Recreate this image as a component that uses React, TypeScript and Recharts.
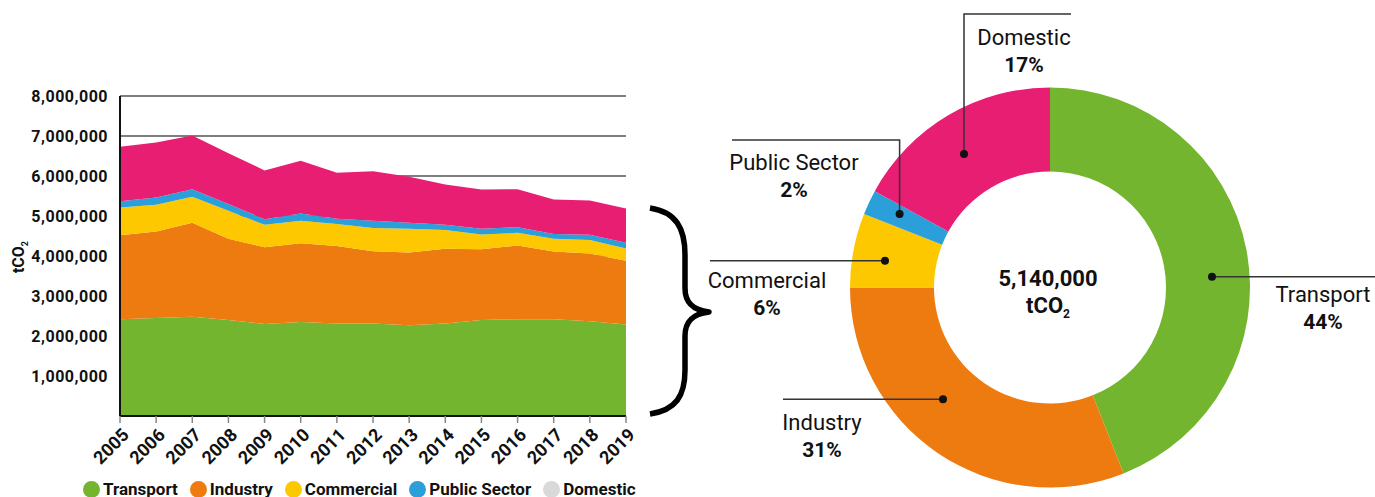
import React from 'react';
import { AreaChart, Area, XAxis, YAxis, CartesianGrid, PieChart, Pie, Cell } from 'recharts';

// emissions by sector, tCO2
const years = ['2005', '2006', '2007', '2008', '2009', '2010', '2011', '2012', '2013', '2014', '2015', '2016', '2017', '2018', '2019'];
const transport = [2420000, 2450000, 2480000, 2400000, 2300000, 2350000, 2310000, 2310000, 2270000, 2310000, 2400000, 2420000, 2420000, 2370000, 2290000];
const industry = [2100000, 2160000, 2350000, 2030000, 1920000, 1970000, 1940000, 1810000, 1820000, 1870000, 1770000, 1840000, 1690000, 1690000, 1590000];
const commercial = [690000, 670000, 650000, 700000, 560000, 560000, 550000, 580000, 590000, 470000, 370000, 320000, 320000, 340000, 310000];
const publicSector = [160000, 180000, 190000, 170000, 140000, 180000, 130000, 180000, 150000, 130000, 140000, 140000, 120000, 130000, 140000];
const domestic = [1360000, 1380000, 1340000, 1270000, 1220000, 1320000, 1150000, 1240000, 1150000, 1010000, 980000, 950000, 860000, 860000, 860000];
const yTicks = [1000000, 2000000, 3000000, 4000000, 5000000, 6000000, 7000000, 8000000];

const sectors = ['Transport', 'Industry', 'Commercial', 'Public Sector', 'Domestic'];
const keys = ['transport', 'industry', 'commercial', 'publicSector', 'domestic'];
const colors = ['#74b530', '#ee7b10', '#fec800', '#2a9fd9', '#e81e73'];
const legendColors = ['#74b530', '#ee7b10', '#fec800', '#2a9fd9', '#d9d9d9'];

// 2019 split for the donut
const shares2019 = [44, 31, 6, 2, 17];
const total2019 = '5,140,000';

const areaData = years.map((year, i) => ({
  year,
  transport: transport[i],
  industry: industry[i],
  commercial: commercial[i],
  publicSector: publicSector[i],
  domestic: domestic[i],
}));

const pieData = sectors.map((name, i) => ({ name, value: shares2019[i] }));

// leader line + label placement, relative to the donut centre
const labelLayout: Record<string, any> = {
  Transport: { pts: [[162, -10.8], [330, -10.8]], text: [273, 14.5] },
  Industry: { pts: [[-107, 111.8], [-267, 111.8]], text: [-228, 142.5] },
  Commercial: { pts: [[-165, -26.8], [-340, -26.8]], text: [-283, 0.5] },
  'Public Sector': { pts: [[-150.4, -73.5], [-150.4, -147.5], [-318, -147.5]], text: [-256, -117.5] },
  Domestic: { pts: [[-86, -133.5], [-86, -273.5], [21, -273.5]], text: [-26, -242.5] },
};

const YTick = (props: any) => {
  const { x, y, payload } = props;
  return (
    <text x={x} y={y} dy="0.36em" textAnchor="end" fontSize={16} fontWeight={700} letterSpacing={0.5} fill="#111">
      {Number(payload.value).toLocaleString('en-US')}
    </text>
  );
};

const XTick = (props: any) => {
  const { x, y, payload } = props;
  return (
    <text transform={`translate(${x + 1},${y + 2}) rotate(-45)`} dy="0.71em" textAnchor="end" fontSize={18} fontWeight={700} fill="#111">
      {payload.value}
    </text>
  );
};

const PieLabel = (props: any) => {
  const { cx, cy, name, value, index } = props;
  const l = labelLayout[name];
  if (!l) return null;
  const pts = l.pts.map((p: number[]) => `${cx + p[0]},${cy + p[1]}`).join(' ');
  return (
    <g>
      <polyline points={pts} fill="none" stroke="#333" strokeWidth={1.5} />
      <circle cx={cx + l.pts[0][0]} cy={cy + l.pts[0][1]} r={4} fill="#111" />
      <text x={cx + l.text[0]} y={cy + l.text[1]} textAnchor="middle" fontSize={22} fill="#111">{name}</text>
      <text x={cx + l.text[0]} y={cy + l.text[1] + 27} textAnchor="middle" fontSize={21} fontWeight={700} fill="#111">{value}%</text>
      {index === 0 && (
        <g>
          <text x={cx - 2} y={cy - 1.5} textAnchor="middle" fontSize={22} fontWeight={700} fill="#111">{total2019}</text>
          <text x={cx - 2} y={cy + 25.5} textAnchor="middle" fontSize={22} fontWeight={700} fill="#111">
            tCO<tspan fontSize={12} dy={5}>2</tspan>
          </text>
        </g>
      )}
    </g>
  );
};

export default function App() {
  return (
    <div style={{ position: 'absolute', left: 0, top: 0, width: 1375, height: 497, background: '#fff', fontFamily: 'Roboto, sans-serif' }}>
      <div style={{ position: 'absolute', left: 0, top: 0 }}>
        <AreaChart width={640} height={497} data={areaData} margin={{ top: 96, right: 14, bottom: 0, left: 0 }}>
          <CartesianGrid vertical={false} stroke="#555" strokeWidth={1.5} />
          <XAxis
            dataKey="year"
            height={81}
            interval={0}
            axisLine={{ stroke: '#111', strokeWidth: 2 }}
            tickLine={{ stroke: '#888', strokeWidth: 1.5 }}
            tickSize={7}
            tickMargin={2}
            tick={<XTick />}
          />
          <YAxis
            width={120}
            domain={[0, 8000000]}
            ticks={yTicks}
            axisLine={{ stroke: '#111', strokeWidth: 2 }}
            tickLine={false}
            tickSize={0}
            tickMargin={12}
            tick={<YTick />}
          />
          {keys.map((k, i) => (
            <Area
              key={k}
              type="linear"
              dataKey={k}
              name={sectors[i]}
              stackId="1"
              stroke="none"
              fill={colors[i]}
              fillOpacity={1}
              isAnimationActive={false}
            />
          ))}
        </AreaChart>
      </div>

      <div style={{ position: 'absolute', left: 640, top: 0 }}>
        <PieChart width={735} height={497} margin={{ top: 0, right: 0, bottom: 0, left: 0 }}>
          <Pie
            data={pieData}
            dataKey="value"
            nameKey="name"
            cx={410}
            cy={287.5}
            innerRadius={116}
            outerRadius={200}
            startAngle={90}
            endAngle={-270}
            stroke="none"
            label={PieLabel}
            labelLine={false}
            isAnimationActive={false}
          >
            {pieData.map((d, i) => (
              <Cell key={d.name} fill={colors[i]} />
            ))}
          </Pie>
        </PieChart>
      </div>

      <svg width={1375} height={497} style={{ position: 'absolute', left: 0, top: 0, pointerEvents: 'none' }}>
        <text transform="translate(24,257) rotate(-90)" textAnchor="middle" fontSize={16} fontWeight={700} fill="#111">
          tCO<tspan fontSize={9} dy={4}>2</tspan>
        </text>
        <path
          d="M650,208 C676,212 685,228 685,255 L685,288 C685,302 692,310 709,312 C692,314 685,322 685,336 L685,370 C685,396 676,410 650,414"
          fill="none"
          stroke="#000"
          strokeWidth={5.5}
          strokeLinejoin="round"
        />
      </svg>

      <div style={{ position: 'absolute', left: 83, top: 479, display: 'flex', alignItems: 'center', fontSize: 17, fontWeight: 700, color: '#111', whiteSpace: 'nowrap' }}>
        {sectors.map((s, i) => (
          <div key={s} style={{ display: 'flex', alignItems: 'center', marginRight: 12 }}>
            <span style={{ display: 'inline-block', width: 17, height: 17, borderRadius: '50%', background: legendColors[i], marginRight: 3 }} />
            <span>{s}</span>
          </div>
        ))}
      </div>
    </div>
  );
}
